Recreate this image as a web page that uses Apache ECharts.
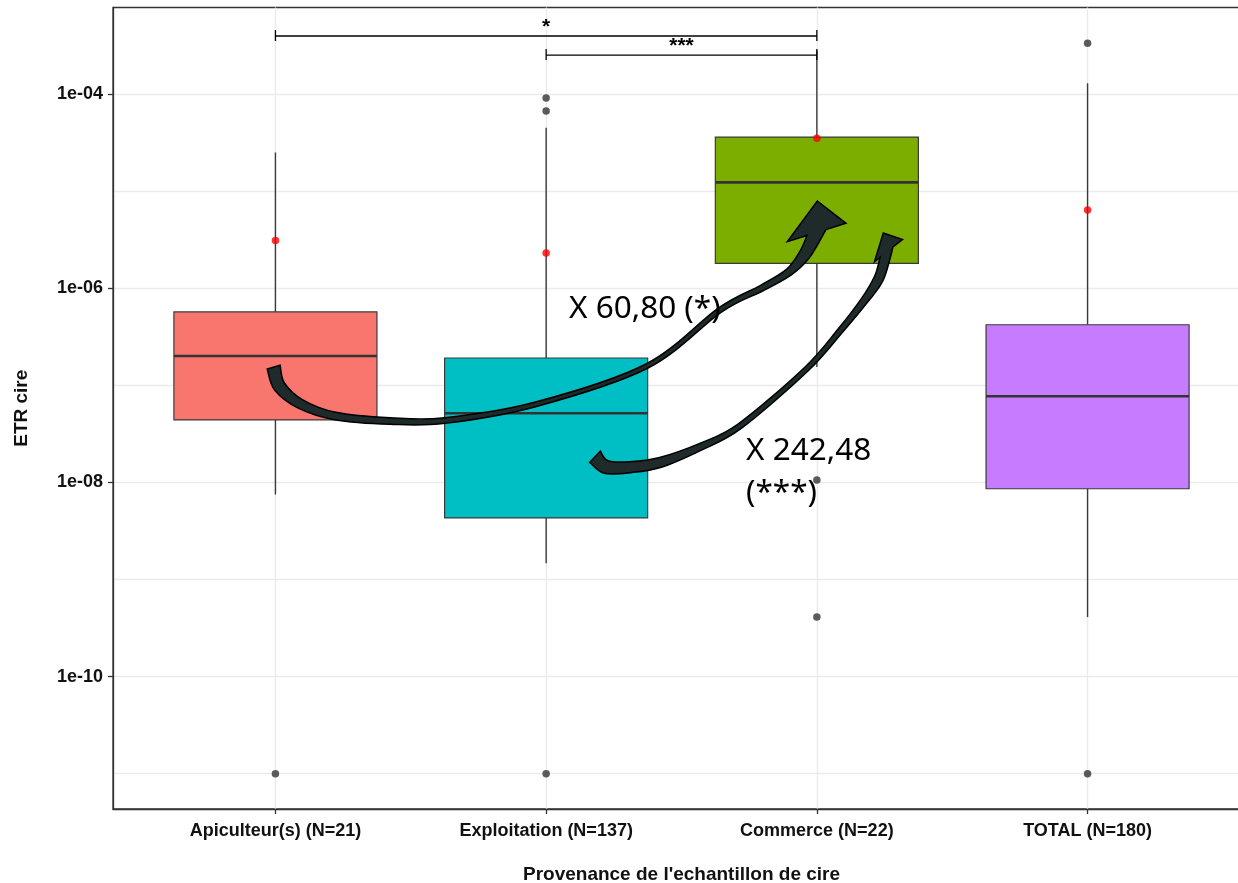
<!DOCTYPE html>
<html><head><meta charset="utf-8">
<script src="https://cdn.jsdelivr.net/npm/echarts@6/dist/echarts.min.js"></script>
<style>html,body{margin:0;padding:0;background:#fff}#c{width:1238px;height:883px}</style>
</head><body><div id="c"></div>
<script>
// ---------------- data ----------------
const categories = ['Apiculteur(s) (N=21)', 'Exploitation (N=137)', 'Commerce (N=22)', 'TOTAL (N=180)'];
const boxColors = ['#F8766D', '#00BFC4', '#7CAE00', '#C77CFF'];
// [lower whisker, Q1, median, Q3, upper whisker]
const boxStats = [
  [7.5e-9, 4.4e-8, 2.0e-7, 5.7e-7, 2.5e-5],
  [1.47e-9, 4.3e-9, 5.15e-8, 1.91e-7, 4.5e-5],
  [1.54e-7, 1.8e-6, 1.23e-5, 3.6e-5, 2.8e-4],
  [4.1e-10, 8.6e-9, 7.7e-8, 4.2e-7, 1.29e-4]
];
const meanValues = [3.1e-6, 2.3e-6, 3.5e-5, 6.4e-6];
const outlierValues = [[1e-11], [9.1e-5, 6.7e-5, 1e-11], [1.06e-8, 4.1e-10], [3.33e-4, 1e-11]];
const yTickExponents = [-10, -8, -6, -4];
const yMinorExponents = [-11, -9, -7, -5];
const bracketFrom = [0, 1];
const bracketTo = [2, 2];
const bracketValues = [3.96e-4, 2.52e-4];
const bracketLabels = ['*', '***'];
const annotationTexts = ['X 60,80 (*)', 'X 242,48', '(***)'];
const xTitle = "Provenance de l'echantillon de cire";
const yTitle = 'ETR cire';

// ---------------- build ----------------
const L = Math.log10;
const FONT = '"Liberation Sans", Arial, sans-serif';
const boxData = boxStats.map((s, i) => [i].concat(s.map(L)));
const meanData = meanValues.map((v, i) => [i, L(v)]);
const outData = [];
outlierValues.forEach((arr, i) => arr.forEach(v => outData.push([i, L(v)])));
const bracketData = bracketFrom.map((f, i) => [f, bracketTo[i], L(bracketValues[i]), i]);

// --- hand-drawn annotation arrows (overlay shapes, pixel space) ---
function smooth(pts) {
  let d = '';
  for (let i = 0; i < pts.length - 1; i++) {
    const p0 = pts[i - 1] || pts[i], p1 = pts[i], p2 = pts[i + 1], p3 = pts[i + 2] || p2;
    const c1 = [p1[0] + (p2[0] - p0[0]) / 6, p1[1] + (p2[1] - p0[1]) / 6];
    const c2 = [p2[0] - (p3[0] - p1[0]) / 6, p2[1] - (p3[1] - p1[1]) / 6];
    d += ' C' + c1[0].toFixed(2) + ',' + c1[1].toFixed(2) + ' ' + c2[0].toFixed(2) + ',' + c2[1].toFixed(2) + ' ' + p2[0].toFixed(2) + ',' + p2[1].toFixed(2);
  }
  return d;
}
// center: [x, y, width]; joints: [rightJoint, leftJoint]; head: [rightBarb, tip, leftBarb]
function bandArrow(center, joints, head) {
  const n = center.length, right = [], left = [];
  const pts = center.map(c => [c[0], c[1]]);
  const all = pts.concat([[(joints[0][0] + joints[1][0]) / 2, (joints[0][1] + joints[1][1]) / 2]]);
  for (let i = 0; i < n; i++) {
    const a = all[Math.max(i - 1, 0)], b = all[i + 1];
    let tx = b[0] - a[0], ty = b[1] - a[1];
    const len = Math.hypot(tx, ty); tx /= len; ty /= len;
    const nx = -ty, ny = tx, h = center[i][2] / 2;
    right.push([center[i][0] + nx * h, center[i][1] + ny * h]);
    left.push([center[i][0] - nx * h, center[i][1] - ny * h]);
  }
  right.push(joints[0]); left.push(joints[1]);
  let d = 'M' + right[0][0].toFixed(2) + ',' + right[0][1].toFixed(2) + smooth(right);
  head.forEach(p => { d += ' L' + p[0] + ',' + p[1]; });
  const lr = left.slice().reverse();
  d += ' L' + lr[0][0] + ',' + lr[0][1] + smooth(lr) + ' Z';
  return d;
}
const arrow1 = bandArrow(
  [[273.7,367,13.5],[279.5,386.5,12],[300.5,404,9.5],[335,416,7.5],[390,421,6.5],[445,420.5,5.5],[535,404.5,4.5],[647,366,4.5],[720,310,5],[762,288,6],[789,272,7.5],[805,254,11.5]],
  [[826,229.6],[807,235.5]],
  [[846,223.3],[817.3,201],[787.3,241.7]]
);
const arrow2 = bandArrow(
  [[595,456.7,15.5],[606,467,13],[630,467.2,11],[660,462.5,10],[700,447,7],[740,426,5.5],[806,369.5,5],[840,331,5.5],[864,301,7],[879,278,9.5]],
  [[893,247],[880,257.3]],
  [[902.5,239.5],[883.3,233],[874.5,261.7]]
);

const lineCol = '#333';
const grid = { left: 113, top: 7.5, width: 1137, height: 801.5, outerBoundsMode: 'none', containLabel: false, show: true, borderColor: lineCol, borderWidth: 1.3, backgroundColor: '#fff' };
const splitStyle = { show: true, lineStyle: { color: '#EBEBEB', width: 1.4 } };
const catIdx = categories.map((c, i) => i);
const annFont = '31.5px "Noto Sans"';

const option = {
  animation: false,
  backgroundColor: '#fff',
  grid: grid,
  xAxis: {
    type: 'value', min: -0.6, max: 3.6,
    axisLine: { show: true, onZero: false, lineStyle: { color: lineCol, width: 1.3 } },
    axisTick: { show: true, customValues: catIdx, length: 5, lineStyle: { color: lineCol, width: 1.3 } },
    axisLabel: { customValues: catIdx, formatter: v => categories[Math.round(v)], fontFamily: FONT, fontWeight: 'bold', fontSize: 18, color: '#111', margin: 13 },
    splitLine: splitStyle,
    name: xTitle, nameLocation: 'middle', nameGap: 56,
    nameTextStyle: { fontFamily: FONT, fontWeight: 'bold', fontSize: 19, color: '#111' }
  },
  yAxis: [{
    type: 'value', min: -11.364, max: -3.109,
    axisLine: { show: true, onZero: false, lineStyle: { color: lineCol, width: 1.3 } },
    axisTick: { show: true, customValues: yTickExponents, length: 5, lineStyle: { color: lineCol, width: 1.3 } },
    axisLabel: { customValues: yTickExponents, formatter: v => '1e-' + String(Math.round(-v)).padStart(2, '0'), fontFamily: FONT, fontWeight: 'bold', fontSize: 18, color: '#111', margin: 10 },
    splitLine: splitStyle,
    name: yTitle, nameLocation: 'middle', nameGap: 82, nameRotate: 90,
    nameTextStyle: { fontFamily: FONT, fontWeight: 'bold', fontSize: 19, color: '#111' }
  }, {
    type: 'value', min: -11.364, max: -3.109, position: 'left',
    axisLine: { show: false, onZero: false }, axisLabel: { show: false },
    axisTick: { show: false, customValues: yMinorExponents },
    splitLine: splitStyle
  }],
  series: [
    {
      type: 'custom', name: 'box', data: boxData, z: 2,
      encode: { x: 0, y: [1, 2, 3, 4, 5] },
      renderItem: function (params, api) {
        const x = api.value(0);
        const pLo = api.coord([x, api.value(1)]), pQ1 = api.coord([x, api.value(2)]),
              pMed = api.coord([x, api.value(3)]), pQ3 = api.coord([x, api.value(4)]),
              pHi = api.coord([x, api.value(5)]);
        const hw = api.size([0.75, 0])[0] / 2;
        const cx = pLo[0];
        const ws = { stroke: '#3a3a3a', lineWidth: 1.4 };
        return { type: 'group', children: [
          { type: 'line', shape: { x1: cx, y1: pHi[1], x2: cx, y2: pQ3[1] }, style: ws },
          { type: 'line', shape: { x1: cx, y1: pQ1[1], x2: cx, y2: pLo[1] }, style: ws },
          { type: 'rect', shape: { x: cx - hw, y: pQ3[1], width: 2 * hw, height: pQ1[1] - pQ3[1] }, style: { fill: boxColors[params.dataIndex], stroke: '#3a3a3a', lineWidth: 1.2 } },
          { type: 'line', shape: { x1: cx - hw, y1: pMed[1], x2: cx + hw, y2: pMed[1] }, style: { stroke: lineCol, lineWidth: 2.6 } }
        ]};
      }
    },
    {
      type: 'scatter', name: 'outliers', data: outData, z: 3,
      symbol: 'circle', symbolSize: 7.5, itemStyle: { color: '#333' }
    },
    {
      type: 'scatter', name: 'mean', data: meanData, z: 4,
      symbol: 'circle', symbolSize: 7.5, itemStyle: { color: '#FF0000' }
    },
    {
      type: 'custom', name: 'signif', data: bracketData, z: 5,
      encode: { x: [0, 1], y: 2 },
      renderItem: function (params, api) {
        const a = api.coord([api.value(0), api.value(2)]);
        const b = api.coord([api.value(1), api.value(2)]);
        const ls = { stroke: '#000', lineWidth: 1.3, fill: null };
        return { type: 'group', children: [
          { type: 'line', shape: { x1: a[0], y1: a[1], x2: b[0], y2: b[1] }, style: ls },
          { type: 'line', shape: { x1: a[0], y1: a[1] - 6, x2: a[0], y2: a[1] + 5 }, style: ls },
          { type: 'line', shape: { x1: b[0], y1: b[1] - 6, x2: b[0], y2: b[1] + 5 }, style: ls },
          { type: 'text', style: { text: bracketLabels[api.value(3)], x: (a[0] + b[0]) / 2, y: a[1] - 8.5, align: 'center', verticalAlign: 'middle', font: 'bold 21px ' + FONT, fill: '#000' } }
        ]};
      }
    },
    {
      type: 'custom', name: 'annotations', data: [[0, -5]], z: 10, silent: true,
      encode: { x: 0, y: 1 },
      renderItem: function () {
        const st = { fill: '#1f2a2b', stroke: '#000', lineWidth: 1.5 };
        return { type: 'group', children: [
          { type: 'path', shape: { pathData: arrow1 }, style: st },
          { type: 'path', shape: { pathData: arrow2 }, style: st },
          { type: 'text', x: 569, y: 309, style: { text: annotationTexts[0], font: annFont, fill: '#000', align: 'left', verticalAlign: 'middle' } },
          { type: 'text', x: 746, y: 451, style: { text: annotationTexts[1], font: annFont, fill: '#000', align: 'left', verticalAlign: 'middle' } },
          { type: 'text', x: 746, y: 493, style: { text: annotationTexts[2], font: annFont, fill: '#000', align: 'left', verticalAlign: 'middle' } }
        ]};
      }
    }
  ]
};
const chart = echarts.init(document.getElementById('c'), null, { renderer: 'canvas' });
chart.setOption(option);
</script></body></html>
